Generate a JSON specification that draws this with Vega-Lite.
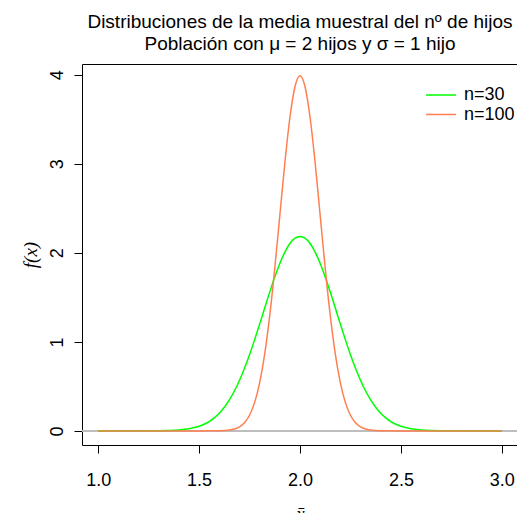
{
  "$schema": "https://vega.github.io/schema/vega-lite/v6.json",
  "autosize": "none",
  "width": 436,
  "height": 381,
  "padding": {"left": 82, "top": 64, "right": 0, "bottom": 68},
  "background": "white",
  "title": {
    "text": ["Distribuciones de la media muestral del nº de hijos", "Población con μ = 2 hijos y σ = 1 hijo"],
    "font": "Liberation Sans",
    "fontSize": 19,
    "fontWeight": "normal",
    "color": "black",
    "anchor": "middle",
    "frame": "group",
    "lineHeight": 22,
    "offset": 10
  },
  "config": {
    "view": {"stroke": "black", "strokeWidth": 1},
    "axis": {
      "labelFont": "Liberation Sans",
      "labelFontSize": 18,
      "labelColor": "black",
      "tickColor": "black",
      "tickSize": 8,
      "tickWidth": 1,
      "domain": false,
      "grid": false,
      "titleFont": "Liberation Serif",
      "titleFontStyle": "italic",
      "titleFontWeight": "normal",
      "titleFontSize": 19,
      "titleColor": "black"
    }
  },
  "data": {
    "values": [
      {"x": 1.0, "n30": 0, "n100": 0},
      {"x": 1.05, "n30": 0, "n100": 0},
      {"x": 1.1, "n30": 0.00001, "n100": 0},
      {"x": 1.15, "n30": 0.00004, "n100": 0},
      {"x": 1.2, "n30": 0.00015, "n100": 0},
      {"x": 1.25, "n30": 0.0005, "n100": 0},
      {"x": 1.3, "n30": 0.0014, "n100": 0},
      {"x": 1.35, "n30": 0.0039, "n100": 0},
      {"x": 1.4, "n30": 0.0099, "n100": 0},
      {"x": 1.45, "n30": 0.0234, "n100": 0},
      {"x": 1.5, "n30": 0.0514, "n100": 0.0001},
      {"x": 1.525, "n30": 0.0741, "n100": 0.0001},
      {"x": 1.55, "n30": 0.1048, "n100": 0.0002},
      {"x": 1.575, "n30": 0.1455, "n100": 0.0005},
      {"x": 1.6, "n30": 0.1982, "n100": 0.0013},
      {"x": 1.625, "n30": 0.2651, "n100": 0.0035},
      {"x": 1.65, "n30": 0.3479, "n100": 0.0087},
      {"x": 1.675, "n30": 0.4481, "n100": 0.0203},
      {"x": 1.7, "n30": 0.5665, "n100": 0.0443},
      {"x": 1.725, "n30": 0.7028, "n100": 0.0909},
      {"x": 1.75, "n30": 0.8558, "n100": 0.1753},
      {"x": 1.775, "n30": 1.0225, "n100": 0.3174},
      {"x": 1.8, "n30": 1.1992, "n100": 0.5399},
      {"x": 1.825, "n30": 1.3803, "n100": 0.8628},
      {"x": 1.85, "n30": 1.5592, "n100": 1.2952},
      {"x": 1.875, "n30": 1.7287, "n100": 1.8265},
      {"x": 1.9, "n30": 1.8807, "n100": 2.4197},
      {"x": 1.925, "n30": 2.0083, "n100": 3.0114},
      {"x": 1.95, "n30": 2.1047, "n100": 3.5207},
      {"x": 1.975, "n30": 2.1647, "n100": 3.8667},
      {"x": 2.0, "n30": 2.1851, "n100": 3.9894},
      {"x": 2.025, "n30": 2.1647, "n100": 3.8667},
      {"x": 2.05, "n30": 2.1047, "n100": 3.5207},
      {"x": 2.075, "n30": 2.0083, "n100": 3.0114},
      {"x": 2.1, "n30": 1.8807, "n100": 2.4197},
      {"x": 2.125, "n30": 1.7287, "n100": 1.8265},
      {"x": 2.15, "n30": 1.5592, "n100": 1.2952},
      {"x": 2.175, "n30": 1.3803, "n100": 0.8628},
      {"x": 2.2, "n30": 1.1992, "n100": 0.5399},
      {"x": 2.225, "n30": 1.0225, "n100": 0.3174},
      {"x": 2.25, "n30": 0.8558, "n100": 0.1753},
      {"x": 2.275, "n30": 0.7028, "n100": 0.0909},
      {"x": 2.3, "n30": 0.5665, "n100": 0.0443},
      {"x": 2.325, "n30": 0.4481, "n100": 0.0203},
      {"x": 2.35, "n30": 0.3479, "n100": 0.0087},
      {"x": 2.375, "n30": 0.2651, "n100": 0.0035},
      {"x": 2.4, "n30": 0.1982, "n100": 0.0013},
      {"x": 2.425, "n30": 0.1455, "n100": 0.0005},
      {"x": 2.45, "n30": 0.1048, "n100": 0.0002},
      {"x": 2.475, "n30": 0.0741, "n100": 0.0001},
      {"x": 2.5, "n30": 0.0514, "n100": 0.0001},
      {"x": 2.55, "n30": 0.0234, "n100": 0},
      {"x": 2.6, "n30": 0.0099, "n100": 0},
      {"x": 2.65, "n30": 0.0039, "n100": 0},
      {"x": 2.7, "n30": 0.0014, "n100": 0},
      {"x": 2.75, "n30": 0.0005, "n100": 0},
      {"x": 2.8, "n30": 0.00015, "n100": 0},
      {"x": 2.85, "n30": 0.00004, "n100": 0},
      {"x": 2.9, "n30": 0.00001, "n100": 0},
      {"x": 2.95, "n30": 0, "n100": 0},
      {"x": 3.0, "n30": 0, "n100": 0}
    ]
  },
  "layer": [
    {
      "mark": {"type": "rule", "color": "#BEBEBE", "strokeWidth": 1},
      "encoding": {
        "y": {"datum": 0, "type": "quantitative", "scale": {"domain": [-0.1586, 4.122], "nice": false, "zero": false}}
      }
    },
    {
      "transform": [
        {"fold": ["n30", "n100"], "as": ["serie", "f"]},
        {"calculate": "datum.serie === 'n30' ? 'n=30' : 'n=100'", "as": "grupo"}
      ],
      "mark": {"type": "line", "strokeWidth": 1.5, "interpolate": "monotone"},
      "encoding": {
        "x": {
          "field": "x",
          "type": "quantitative",
          "scale": {"domain": [0.92, 3.08], "nice": false, "zero": false},
          "axis": {
            "values": [1, 1.5, 2, 2.5, 3],
            "format": ".1f",
            "labelPadding": 18,
            "title": "x̄",
            "titlePadding": 15
          }
        },
        "y": {
          "field": "f",
          "type": "quantitative",
          "scale": {"domain": [-0.1586, 4.122], "nice": false, "zero": false},
          "axis": {
            "values": [0, 1, 2, 3, 4],
            "format": "d",
            "labelAngle": -90,
            "labelAlign": "center",
            "labelBaseline": "bottom",
            "labelPadding": 8,
            "title": "f(x)",
            "titlePadding": 8
          }
        },
        "color": {
          "field": "grupo",
          "type": "nominal",
          "scale": {"domain": ["n=30", "n=100"], "range": ["#00FF00", "#FF7F50"]},
          "legend": {
            "orient": "none",
            "legendX": 350,
            "legendY": 22,
            "title": null,
            "padding": 0,
            "symbolType": "M-3,0H3",
            "symbolSize": 100,
            "symbolStrokeWidth": 1.5,
            "labelFont": "Liberation Sans",
            "labelFontSize": 18,
            "labelColor": "black",
            "labelOffset": 14,
            "rowPadding": 1.5
          }
        }
      }
    }
  ]
}
